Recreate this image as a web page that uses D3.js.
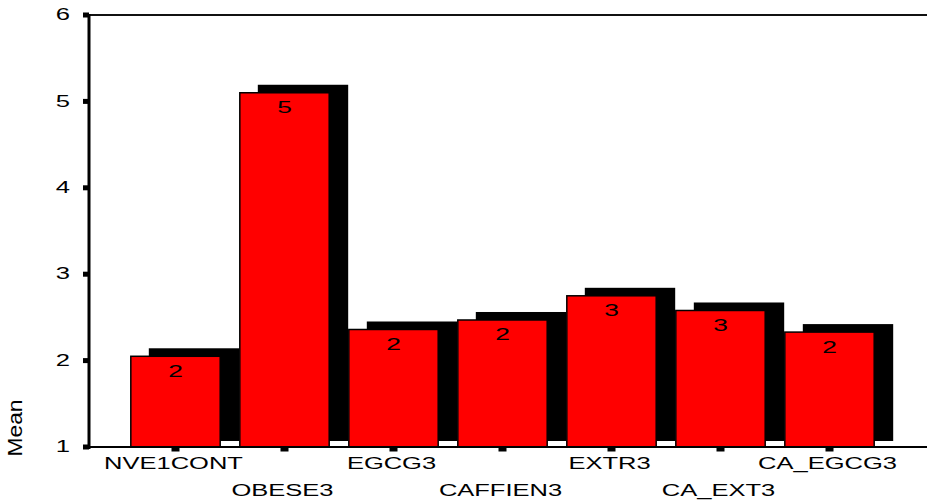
<!DOCTYPE html>
<html>
<head>
<meta charset="utf-8">
<script src="https://cdn.jsdelivr.net/npm/d3@7"></script>
<style>
  html, body { margin: 0; padding: 0; background: #fff; }
  svg { display: block; }
  text { font-family: Arial, "Liberation Sans", sans-serif; fill: #000; }
</style>
</head>
<body>
<svg id="chart" width="927" height="502"></svg>
<script>
// Group means
const categories = ["NVE1CONT", "OBESE3", "EGCG3", "CAFFIEN3", "EXTR3", "CA_EXT3", "CA_EGCG3"];
const means = [2.05, 5.10, 2.36, 2.47, 2.75, 2.58, 2.33];
const yTicks = [1, 2, 3, 4, 5, 6];
const yTitle = "Mean";

const W = 927, H = 502;
const svg = d3.select("#chart");

const x = d3.scaleBand()
  .domain(categories)
  .range([121, 884])
  .paddingInner(0.18)
  .paddingOuter(0.09);

const y = d3.scaleLinear().domain([1, 6]).range([447, 15]);

const depthX = 18, depthY = -8, shadowGap = 6;
const sx = 1.6; // horizontal text stretch

// frame: top rule
svg.append("line")
  .attr("x1", 88).attr("x2", W).attr("y1", y(6)).attr("y2", y(6))
  .attr("stroke", "#111").attr("stroke-width", 2);

// shadows (depth) drawn behind the bars
svg.append("g").selectAll("rect")
  .data(means)
  .join("rect")
  .attr("x", (d, i) => x(categories[i]) + depthX)
  .attr("y", d => y(d) + depthY)
  .attr("width", x.bandwidth() + 1)
  .attr("height", d => (y(1) - shadowGap) - (y(d) + depthY))
  .attr("fill", "#000");

// bars
svg.append("g").selectAll("rect")
  .data(means)
  .join("rect")
  .attr("x", (d, i) => x(categories[i]))
  .attr("y", d => y(d))
  .attr("width", x.bandwidth())
  .attr("height", d => y(1) - y(d))
  .attr("fill", "#ff0000")
  .attr("stroke", "#000")
  .attr("stroke-width", 1.5);

// value labels inside bars
svg.append("g").selectAll("text")
  .data(means)
  .join("text")
  .attr("transform", (d, i) => `translate(${x(categories[i]) + x.bandwidth() / 2},${y(d) + 20.5}) scale(${sx},1)`)
  .attr("text-anchor", "middle")
  .attr("font-size", 16.5)
  .text(d => d3.format(".0f")(d));

// baseline axis
svg.append("line")
  .attr("x1", 88).attr("x2", W).attr("y1", y(1)).attr("y2", y(1))
  .attr("stroke", "#000").attr("stroke-width", 2);

// y axis
svg.append("line")
  .attr("x1", 89).attr("x2", 89).attr("y1", y(6) - 1).attr("y2", y(1) + 2)
  .attr("stroke", "#000").attr("stroke-width", 3);

const yg = svg.append("g");
yg.selectAll("rect")
  .data(yTicks)
  .join("rect")
  .attr("x", 83).attr("y", d => y(d) - 2.5)
  .attr("width", 6).attr("height", 5)
  .attr("fill", "#000");
yg.selectAll("text")
  .data(yTicks)
  .join("text")
  .attr("transform", d => `translate(70,${y(d)}) scale(${sx},1)`)
  .attr("text-anchor", "end")
  .attr("dominant-baseline", "central")
  .attr("font-size", 16)
  .text(d => d);

// x ticks and staggered category labels
const xg = svg.append("g");
xg.selectAll("rect")
  .data(categories)
  .join("rect")
  .attr("x", d => x(d) + x.bandwidth() / 2 - 4)
  .attr("y", y(1))
  .attr("width", 8).attr("height", 4.5)
  .attr("fill", "#000");
xg.selectAll("text")
  .data(categories)
  .join("text")
  .attr("transform", (d, i) => `translate(${x(d) + x.bandwidth() / 2 - 2},${i % 2 === 0 ? 469 : 495.5}) scale(1.5,1)`)
  .attr("text-anchor", "middle")
  .attr("font-size", 17)
  .text(d => d);

// y title
svg.append("text")
  .attr("transform", "translate(22,428) rotate(-90) scale(1,1.3)")
  .attr("text-anchor", "middle")
  .attr("font-size", 15)
  .attr("textLength", 57)
  .attr("lengthAdjust", "spacingAndGlyphs")
  .text(yTitle);
</script>
</body>
</html>
